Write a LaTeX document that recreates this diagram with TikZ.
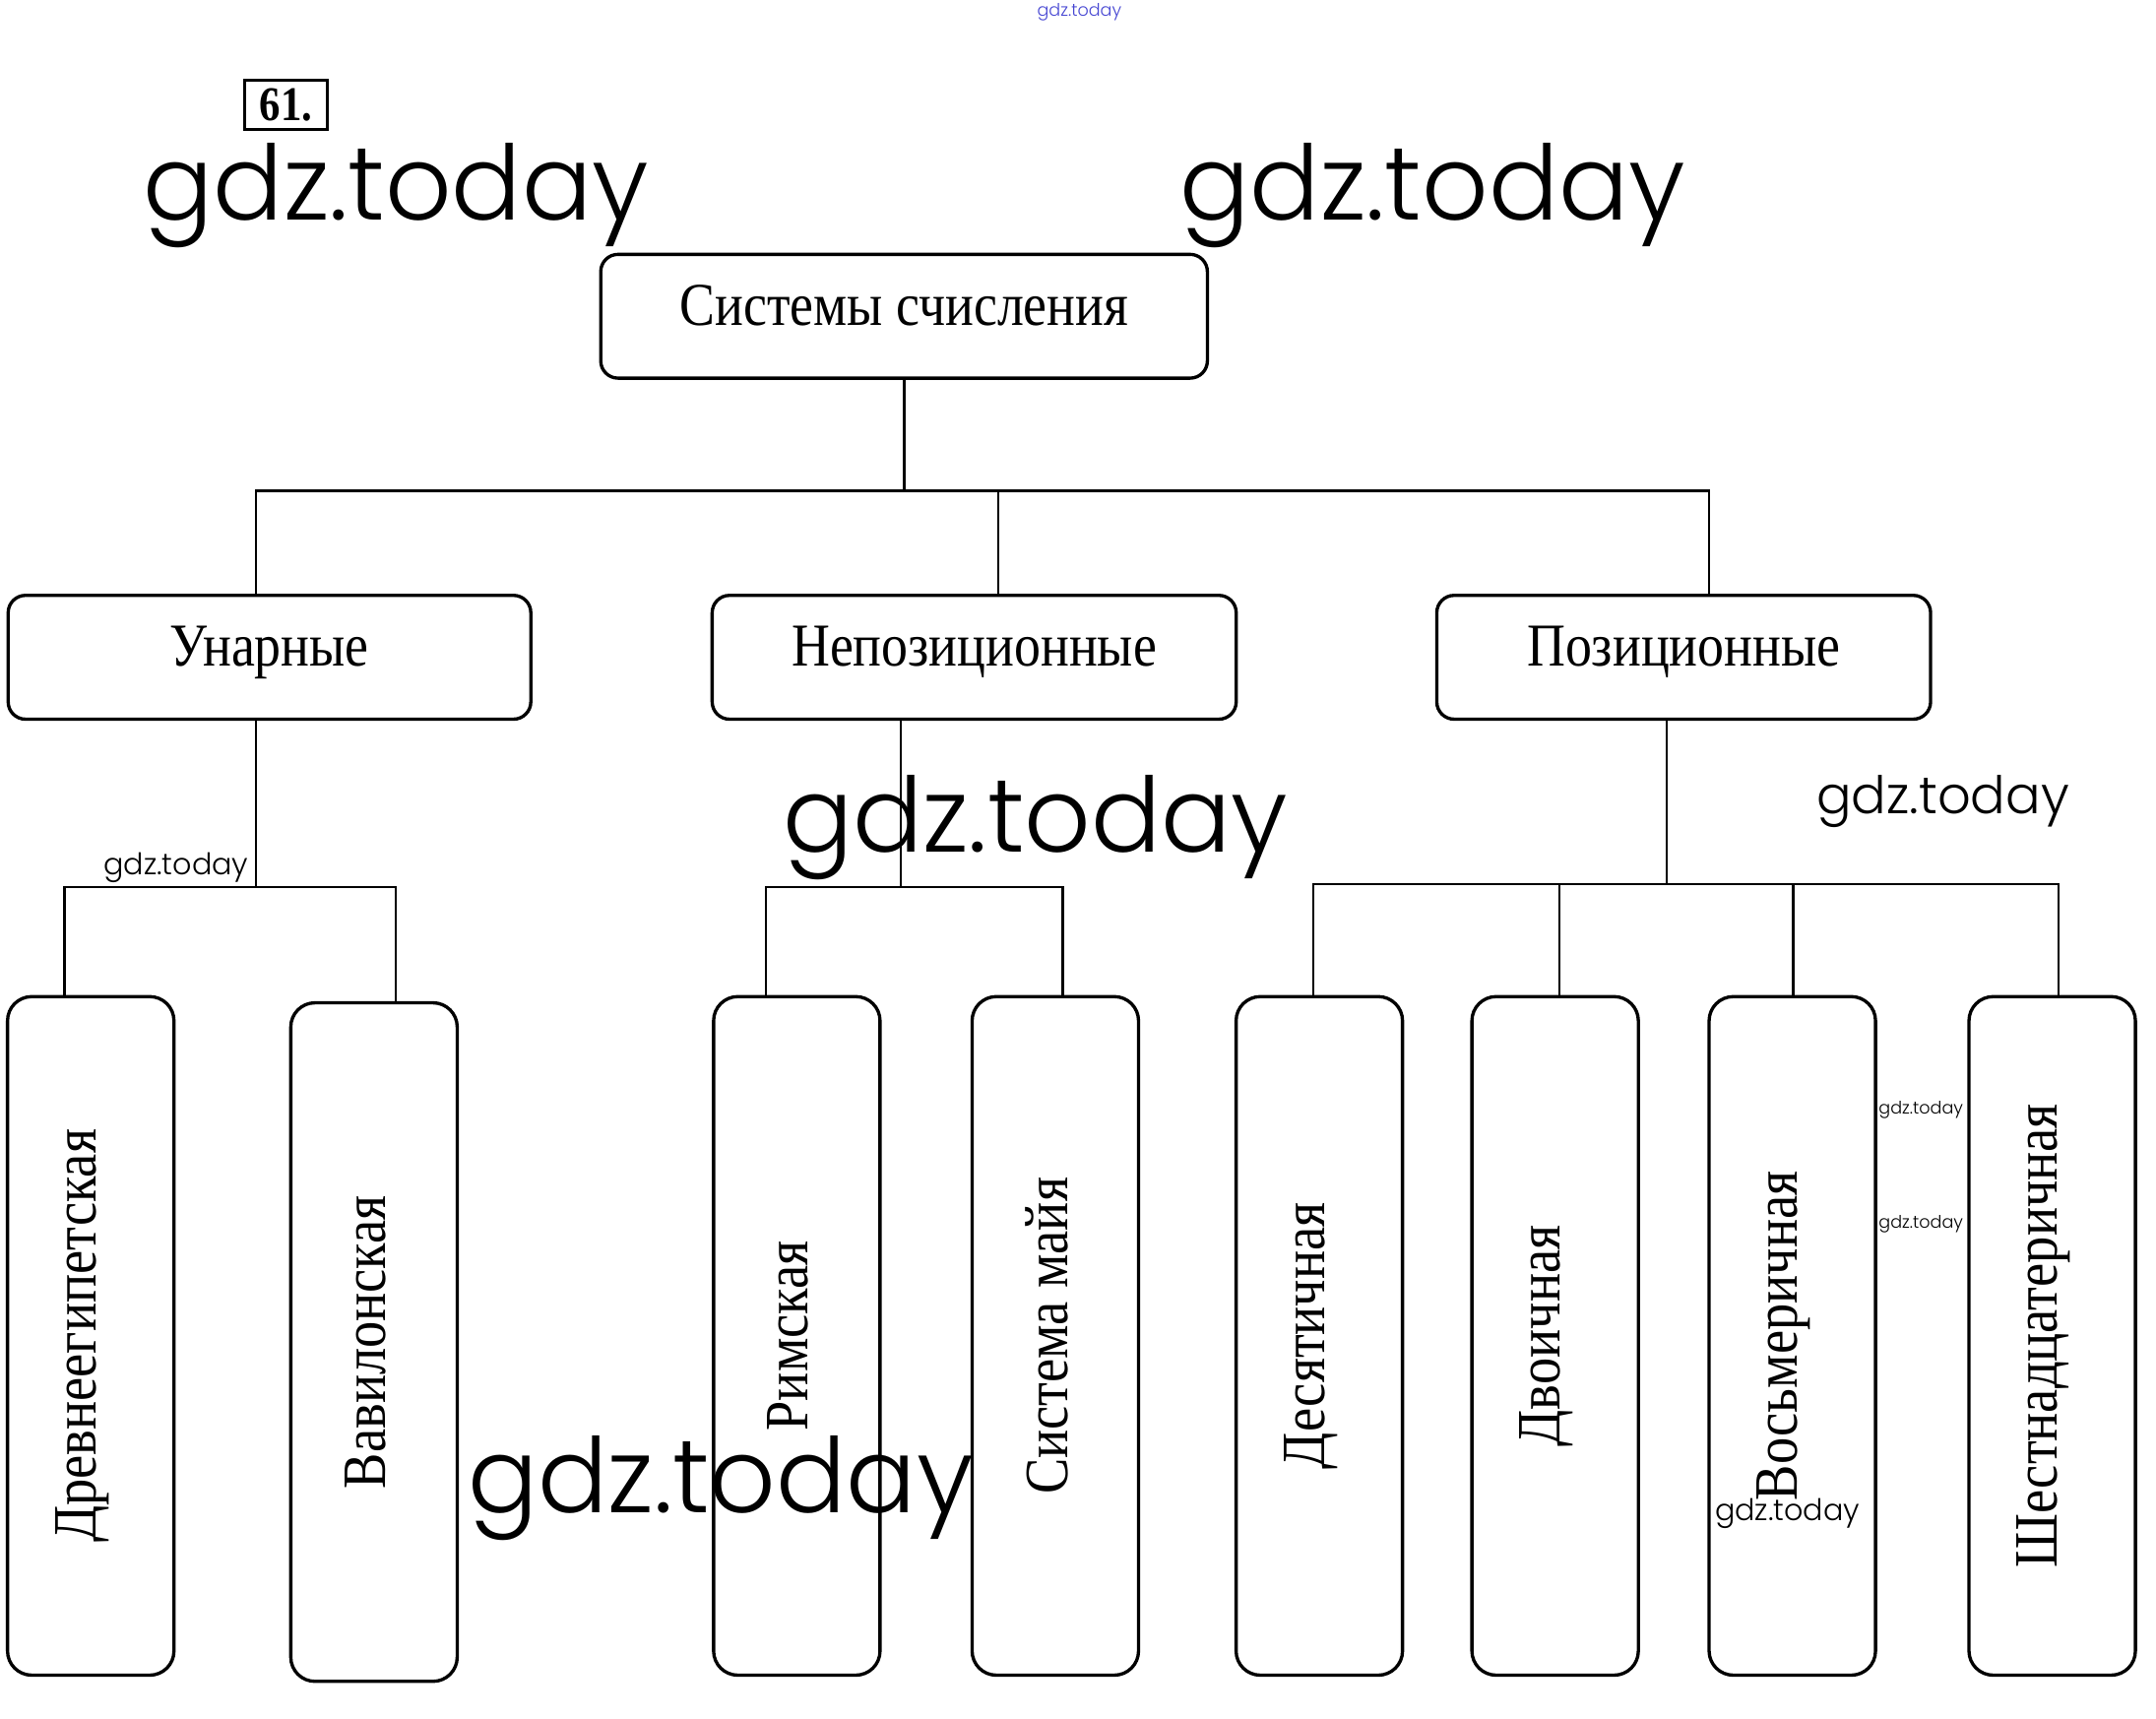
\documentclass[tikz,border=0pt]{standalone}
\usepackage{fontspec}
\setmainfont{Liberation Serif}[FakeStretch=0.87]
\newfontfamily\wmfont{Poppins Light}
\usepackage{xcolor}
\usepackage{tikz}
\definecolor{wmblue}{RGB}{70,70,210}

\begin{document}
\begin{tikzpicture}[x=0.013967cm,y=-0.013967cm,
    box/.style={draw,line width=0.95pt,rounded corners=5pt,minimum height=1.257cm,
      font=\fontsize{17.6}{20}\selectfont,text height=12pt,text depth=7pt},
    tall/.style={draw,line width=0.95pt,rounded corners=7pt,minimum width=1.69cm,
      minimum height=6.89cm,font=\fontsize{17.8}{20}\selectfont},
    wm/.style={anchor=base,inner sep=0pt},
    link/.style={line width=0.7pt}]
  \useasboundingbox (0,0) rectangle (1568,1250.1);

  % number of the task
  \node[draw,line width=0.8pt,inner sep=0pt,minimum width=0.84cm,minimum height=0.5cm,
    font=\bfseries\fontsize{14}{14}\selectfont] (num) at (208,76) {61.};

  % top level
  \node[box,minimum width=6.16cm] (S) at (657.5,230) {Системы счисления};
  \node[box,minimum width=5.307cm] (U) at (196,478) {Унарные};
  \node[box,minimum width=5.321cm] (N) at (708.5,478) {Непозиционные};
  \node[box,minimum width=5.014cm] (P) at (1224.5,478) {Позиционные};

  % bottom level
  \node[tall] (E) at (66,971.5) {\rotatebox{90}{Древнеегипетская}\kern5pt};
  \node[tall] (V) at (272,976) {\rotatebox{90}{Вавилонская}\kern5pt};
  \node[tall] (R) at (579.5,971.5) {\rotatebox{90}{Римская}\kern5pt};
  \node[tall] (M) at (767.5,971.5) {\rotatebox{90}{Система майя}\kern5pt};
  \node[tall] (D10) at (959.5,971.5) {\rotatebox{90}{Десятичная}\kern5pt};
  \node[tall] (D2) at (1131,971.5) {\rotatebox{90}{Двоичная}\kern5pt};
  \node[tall] (D8) at (1303.5,971.5) {\rotatebox{90}{Восьмеричная}\kern5pt};
  \node[tall] (D16) at (1492.5,971.5) {\rotatebox{90}{Шестнадцатеричная}\kern5pt};

  % junctions
  \coordinate (b1) at (186,357);
  \coordinate (b2) at (726,357);
  \coordinate (b3) at (1243,357);
  \coordinate (u0) at (186,645);
  \coordinate (u1) at (47,645);
  \coordinate (u2) at (288,645);
  \coordinate (n0) at (655,645);
  \coordinate (n1) at (557,645);
  \coordinate (n2) at (773,645);
  \coordinate (p0) at (1212,643);
  \coordinate (p1) at (955,643);
  \coordinate (p2) at (1134,643);
  \coordinate (p3) at (1304,643);
  \coordinate (p4) at (1497,643);

  \draw[link] (S.south) -- (S.south |- b2);
  \draw[link] (b1 |- U.north) -- (b1) -- (b3) -- (b3 |- P.north);
  \draw[link] (b2) -- (b2 |- N.north);

  \draw[link] (u0 |- U.south) -- (u0);
  \draw[link] (u1 |- E.north) -- (u1) -- (u2) -- (u2 |- V.north);

  \draw[link] (n0 |- N.south) -- (n0);
  \draw[link] (n1 |- R.north) -- (n1) -- (n2) -- (n2 |- M.north);

  \draw[link] (p0 |- P.south) -- (p0);
  \draw[link] (p1 |- D10.north) -- (p1) -- (p4) -- (p4 |- D16.north);
  \draw[link] (p2) -- (p2 |- D2.north);
  \draw[link] (p3) -- (p3 |- D8.north);

  % watermarks
  \node[wm,text=wmblue,font=\wmfont\fontsize{5}{5}\selectfont] (w1) at (785,12) {gdz.today};
  \node[wm,font=\wmfont\fontsize{30}{30}\selectfont] (w2) at (288,160) {gdz.today};
  \node[wm,font=\wmfont\fontsize{30}{30}\selectfont] (w3) at (1042,160) {gdz.today};
  \node[wm,font=\wmfont\fontsize{8.6}{9}\selectfont] (w4) at (128,636) {gdz.today};
  \node[wm,font=\wmfont\fontsize{30}{30}\selectfont] (w5) at (753,620) {gdz.today};
  \node[wm,font=\wmfont\fontsize{15}{15}\selectfont] (w6) at (1413,592) {gdz.today};
  \node[wm,font=\wmfont\fontsize{5}{5}\selectfont] (w7) at (1397,810) {gdz.today};
  \node[wm,font=\wmfont\fontsize{5}{5}\selectfont] (w8) at (1397,893) {gdz.today};
  \node[wm,font=\wmfont\fontsize{8.6}{9}\selectfont] (w9) at (1300,1106) {gdz.today};
  \node[wm,font=\wmfont\fontsize{30}{30}\selectfont] (w10) at (524,1100) {gdz.today};
\end{tikzpicture}
\end{document}
